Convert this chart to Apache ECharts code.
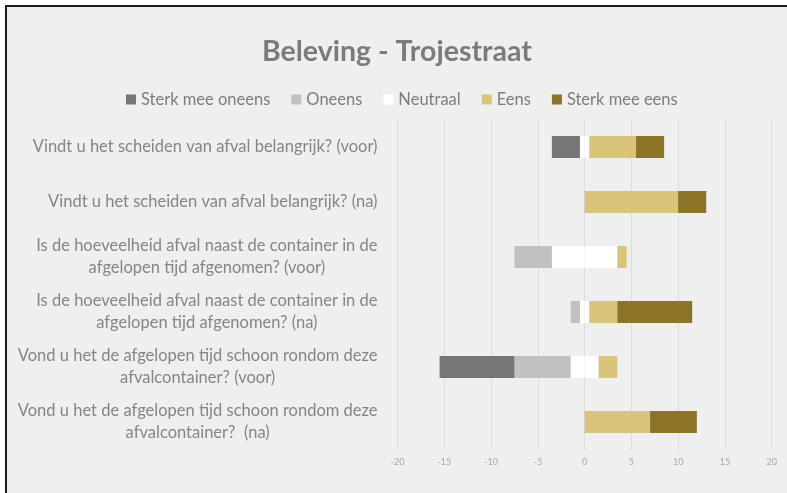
<!DOCTYPE html>
<html>
<head>
<meta charset="utf-8">
<script src="https://cdn.jsdelivr.net/npm/echarts@6/dist/echarts.min.js"></script>
<style>
  html, body { margin: 0; padding: 0; background: #ffffff; }
  .frame { position: absolute; left: 5px; top: 5px; right: 0; bottom: 0; border-top: 2px solid #1c1c1c; border-left: 2px solid #1c1c1c; background: #efefef; }
  #chart { position: absolute; left: 0; top: 0; width: 787px; height: 493px; }
</style>
</head>
<body>
<div class="frame"></div>
<div id="chart"></div>
<script>
// vragen (van boven naar beneden)
const categories = [
  'Vindt u het scheiden van afval belangrijk? (voor)',
  'Vindt u het scheiden van afval belangrijk? (na)',
  'Is de hoeveelheid afval naast de container in de\nafgelopen tijd afgenomen? (voor)',
  'Is de hoeveelheid afval naast de container in de\nafgelopen tijd afgenomen? (na)',
  'Vond u het de afgelopen tijd schoon rondom deze\nafvalcontainer? (voor)',
  'Vond u het de afgelopen tijd schoon rondom deze\nafvalcontainer?  (na)'
]
const sterkOneens = [3, 0, 0, 0, 8, 0]
const oneens      = [0, 0, 4, 1, 6, 0]
const neutraal    = [1, 0, 7, 1, 3, 0]
const eens        = [5, 10, 1, 3, 2, 7]
const sterkEens   = [3, 3, 0, 8, 0, 5]

const colors = { so: '#767676', o: '#c1c1c1', n: '#ffffff', e: '#d9c47b', se: '#8b7328' }

const chart = echarts.init(document.getElementById('chart'))
const base = { type: 'bar', stack: 'totaal', barWidth: 22, silent: true }
const lblFont = 'Lato, "Open Sans", sans-serif'

chart.setOption({
  backgroundColor: 'transparent',
  animation: false,
  title: {
    text: 'Beleving - Trojestraat', left: 257, top: 32,
    textStyle: { fontFamily: lblFont, fontSize: 28.5, fontWeight: 'bold', color: '#7b7b7b' }
  },
  legend: {
    data: ['Sterk mee oneens', 'Oneens', 'Neutraal', 'Eens', 'Sterk mee eens'],
    left: 121, top: 86, itemWidth: 10, itemHeight: 10, itemGap: 21,
    icon: 'rect',
    textStyle: { fontFamily: lblFont, fontSize: 16.5, color: '#7d7d7d' }
  },
  grid: { left: 397.5, right: 15.3, top: 119.5, bottom: 43.5, containLabel: false },
  xAxis: {
    type: 'value', min: -20, max: 20, interval: 5,
    axisLine: { show: false }, axisTick: { show: false },
    axisLabel: { color: '#a8a8a8', fontSize: 9, margin: 8, fontFamily: lblFont },
    splitLine: { lineStyle: { color: '#dcdcdc', width: 1 } }
  },
  yAxis: {
    type: 'category', data: categories, inverse: true,
    axisLine: { show: false }, axisTick: { show: false },
    axisLabel: {
      align: 'right', margin: 20, lineHeight: 22,
      formatter: v => v.split('\n').map(s => '{c|' + s + '}').join('\n'),
      rich: { c: { align: 'center', fontFamily: lblFont, fontSize: 16.5, color: '#858585', lineHeight: 22 } }
    },
    splitLine: { show: false }
  },
  series: [
    { ...base, name: 'Neutraal', data: neutraal.map(v => -v / 2), itemStyle: { color: colors.n } },
    { ...base, name: 'Neutraal', data: neutraal.map(v => v / 2), itemStyle: { color: colors.n } },
    { ...base, name: 'Oneens', data: oneens.map(v => -v), itemStyle: { color: colors.o } },
    { ...base, name: 'Sterk mee oneens', data: sterkOneens.map(v => -v), itemStyle: { color: colors.so } },
    { ...base, name: 'Eens', data: eens, itemStyle: { color: colors.e } },
    { ...base, name: 'Sterk mee eens', data: sterkEens, itemStyle: { color: colors.se } }
  ]
})
</script>
</body>
</html>
